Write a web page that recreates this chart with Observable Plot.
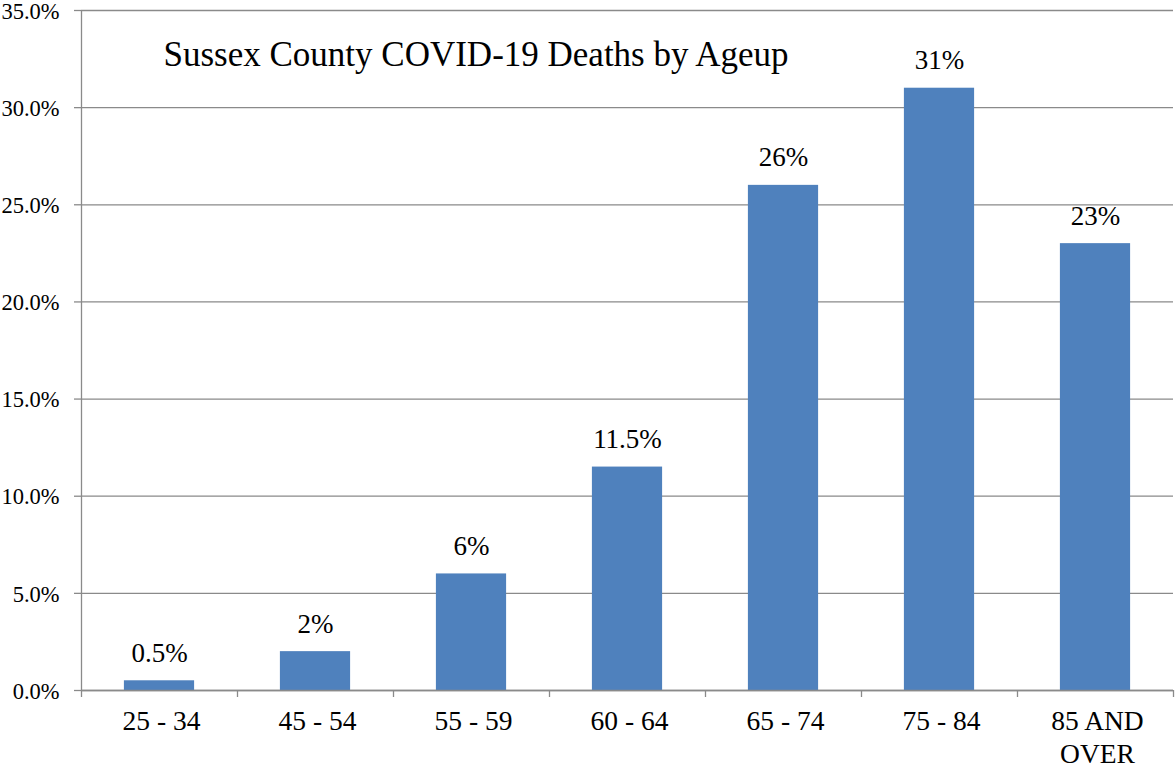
<!DOCTYPE html>
<html><head><meta charset="utf-8">
<script src="https://cdn.jsdelivr.net/npm/d3@7"></script>
<script src="https://cdn.jsdelivr.net/npm/@observablehq/plot@0.6"></script>
<style>body{margin:0;background:#fff}svg{display:block}</style>
</head><body><div id="chart"></div>
<script>
const categories = ["25 - 34","45 - 54","55 - 59","60 - 64","65 - 74","75 - 84","85 AND\nOVER"];
const values = [0.5, 2, 6, 11.5, 26, 31, 23];
const labels = ["0.5%","2%","6%","11.5%","26%","31%","23%"];
const yTicks = [0,5,10,15,20,25,30,35];
const title = "Sussex County COVID-19 Deaths by Ageup";

const data = categories.map((c,i)=>({cat:c, v:values[i], label:labels[i]}));
const W=1175, H=771, ml=81, mr=2, mt=10, mb=81;
const step=(W-ml-mr)/categories.length;
const grid="#8a8a8a";
const font="Liberation Serif";
const xTick = (idx,sc,ch,dim,ctx,next)=>{const g=next(idx,sc,ch,dim,ctx); d3.select(g).selectAll("line").attr("y1",H-mb).attr("y2",H-mb+7); return g;};

const chart = Plot.plot({
  width:W, height:H, marginLeft:ml, marginRight:mr, marginTop:mt, marginBottom:mb,
  style:{background:"#fff", color:"#000"},
  x:{type:"band", domain:categories, padding:0, axis:null},
  y:{type:"linear", domain:[0,35], axis:null},
  marks:[
    Plot.ruleY(yTicks,{stroke:grid, strokeWidth:1.3}),
    Plot.ruleY(yTicks,{stroke:grid, strokeWidth:1.3, render:(idx,sc,ch,dim,ctx,next)=>{const g=next(idx,sc,ch,dim,ctx); d3.select(g).selectAll("line").attr("x1",ml-7).attr("x2",ml); return g;}}),
    Plot.text(yTicks,{y:d=>d, text:d=>d.toFixed(1)+"%", frameAnchor:"left", textAnchor:"end", dx:-22, dy:1, fontSize:22.5, fontFamily:font, fill:"#000"}),
    Plot.ruleX([categories[0]],{dx:-step/2, stroke:grid, strokeWidth:1.3}),
    Plot.barY(data,{x:"cat", y:"v", fill:"#4F81BD", insetLeft:step*0.275, insetRight:step*0.275}),
    Plot.ruleY([0],{stroke:grid, strokeWidth:1.3}),
    Plot.tickX(data,{x:"cat", dx:-step/2, stroke:grid, strokeWidth:1.3, render:xTick}),
    Plot.tickX([categories[categories.length-1]],{dx:step/2, stroke:grid, strokeWidth:1.3, render:xTick}),
    Plot.text(data,{x:"cat", y:"v", text:"label", dy:-19, lineAnchor:"bottom", fontSize:27, fontFamily:font, fill:"#000"}),
    Plot.text(data,{x:"cat", y:()=>0, text:"cat", dy:17, lineAnchor:"top", lineHeight:1.17, fontSize:27.5, fontFamily:font, fill:"#000", dx:2}),
    Plot.text([title],{frameAnchor:"top-left", dx:82, dy:31, fontSize:35, fontFamily:font, fill:"#000", textAnchor:"start"})
  ]
});
document.getElementById("chart").append(chart);
</script></body></html>
